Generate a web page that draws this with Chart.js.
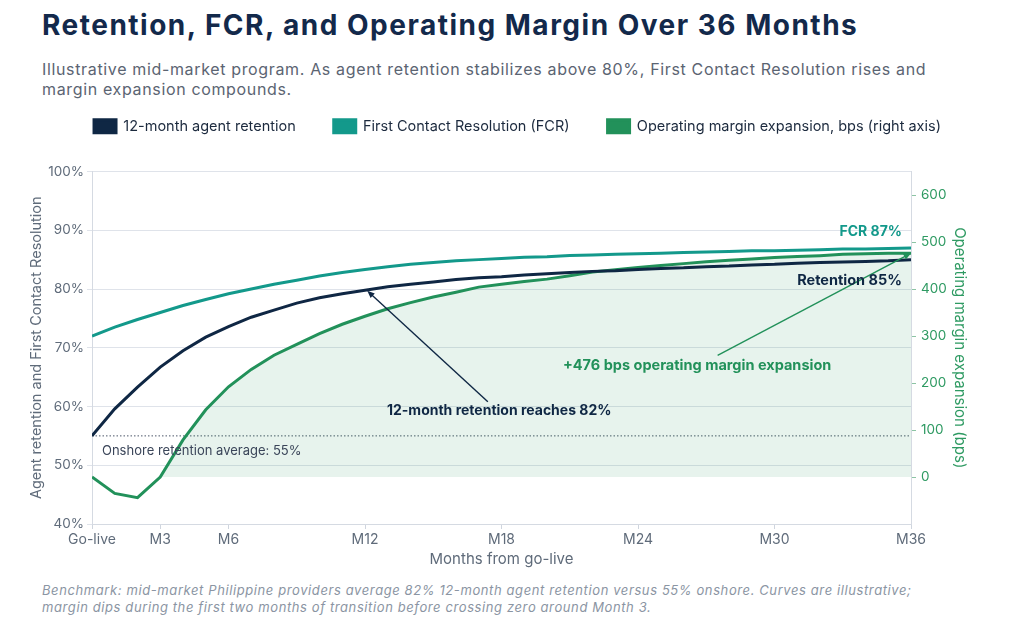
<!DOCTYPE html>
<html>
<head>
<meta charset="utf-8">
<script src="https://cdn.jsdelivr.net/npm/chart.js@4.4.1/dist/chart.umd.min.js"></script>
<style>
  body { margin: 0; width: 1024px; height: 632px; background: #fff; position: relative; overflow: hidden; font-family: Inter, "Noto Sans", sans-serif; }
  #title { position: absolute; left: 42px; top: 8px; font-size: 28px; font-weight: 700; color: #13294b; letter-spacing: 1.5px; white-space: nowrap; }
  #sub { position: absolute; left: 42px; top: 59px; font-size: 16px; line-height: 20px; color: #5b6472; letter-spacing: 0.65px; white-space: nowrap; }
  #wrap { position: absolute; left: 0; top: 81px; width: 1024px; height: 487px; }
  #foot { position: absolute; left: 42px; top: 582px; font-size: 13px; font-style: italic; color: #8b95a3; line-height: 17px; letter-spacing: 0.6px; white-space: nowrap; }
</style>
</head>
<body>
<div id="title">Retention, FCR, and Operating Margin Over 36 Months</div>
<div id="sub">Illustrative mid-market program. As agent retention stabilizes above 80%, First Contact Resolution rises and<br>margin expansion compounds.</div>
<div id="wrap"><canvas id="myChart"></canvas></div>
<div id="foot">Benchmark: mid-market Philippine providers average 82% 12-month agent retention versus 55% onshore. Curves are illustrative;<br>margin dips during the first two months of transition before crossing zero around Month 3.</div>

<script>
// months from go-live
var months = [0, 1, 2, 3, 4, 5, 6, 7, 8, 9, 10, 11, 12, 13, 14, 15, 16, 17, 18,
  19, 20, 21, 22, 23, 24, 25, 26, 27, 28, 29, 30, 31, 32, 33, 34, 35, 36];

// 12-month agent retention (%)
var retention = [55, 59.6, 63.3, 66.7, 69.5, 71.8, 73.6, 75.2, 76.4, 77.6, 78.5, 79.2, 79.8,
  80.4, 80.8, 81.2, 81.6, 81.9, 82.1, 82.4, 82.6, 82.8, 83.0, 83.1, 83.3,
  83.5, 83.6, 83.8, 83.9, 84.1, 84.2, 84.4, 84.5, 84.6, 84.7, 84.8, 85.0];

// First Contact Resolution (%)
var fcr = [72.0, 73.5, 74.8, 76.0, 77.2, 78.2, 79.2, 80.0, 80.8, 81.5, 82.2, 82.8, 83.3,
  83.8, 84.2, 84.5, 84.8, 85.0, 85.2, 85.4, 85.5, 85.7, 85.8, 85.9, 86.0,
  86.1, 86.2, 86.3, 86.4, 86.5, 86.5, 86.6, 86.7, 86.8, 86.8, 86.9, 87.0];

// operating margin expansion (bps)
var margin = [0, -35, -44, 0, 79, 143, 192, 229, 259, 282, 305, 325, 342,
  358, 371, 383, 393, 404, 410, 416, 421, 428, 436, 441, 446,
  450, 454, 458, 461, 464, 467, 469, 471, 474, 475, 476, 476];

// axis ticks
var xTickMonths = [0, 3, 6, 12, 18, 24, 30, 36];
var xTickLabels = ["Go-live", "M3", "M6", "M12", "M18", "M24", "M30", "M36"];
var bpsTicks = [0, 100, 200, 300, 400, 500, 600];

var onshoreAvg = 55;

var NAVY = "#0f2744";
var TEAL = "#13998b";
var GREEN = "#22915a";
var GRAY = "#5f6b7a";
var FONT = "Inter, 'Noto Sans', sans-serif";

function points(values) {
  var out = [];
  for (var i = 0; i < months.length; i++) {
    out.push({ x: months[i], y: values[i] });
  }
  return out;
}

function arrow(ctx, x1, y1, x2, y2, color) {
  var a = Math.atan2(y2 - y1, x2 - x1);
  var h = 8;
  ctx.save();
  ctx.strokeStyle = color;
  ctx.fillStyle = color;
  ctx.lineWidth = 1.4;
  ctx.beginPath();
  ctx.moveTo(x1, y1);
  ctx.lineTo(x2 - Math.cos(a) * 4, y2 - Math.sin(a) * 4);
  ctx.stroke();
  ctx.beginPath();
  ctx.moveTo(x2, y2);
  ctx.lineTo(x2 - h * Math.cos(a - 0.4), y2 - h * Math.sin(a - 0.4));
  ctx.lineTo(x2 - h * Math.cos(a + 0.4), y2 - h * Math.sin(a + 0.4));
  ctx.closePath();
  ctx.fill();
  ctx.restore();
}

// 평균선, 라벨, 화살표
var notes = {
  id: "notes",
  beforeDatasetsDraw: function (chart) {
    var ctx = chart.ctx;
    var a = chart.chartArea;
    var y = chart.scales.y.getPixelForValue(onshoreAvg);
    ctx.save();
    ctx.strokeStyle = "#4a5568";
    ctx.lineWidth = 1;
    ctx.setLineDash([1.5, 2]);
    ctx.beginPath();
    ctx.moveTo(a.left, y);
    ctx.lineTo(a.right, y);
    ctx.stroke();
    ctx.restore();
  },
  afterDatasetsDraw: function (chart) {
    var ctx = chart.ctx;
    var a = chart.chartArea;
    var x = chart.scales.x;
    var yl = chart.scales.y;
    var yr = chart.scales.y1;

    ctx.save();
    ctx.textBaseline = "middle";

    ctx.font = "13px " + FONT;
    ctx.fillStyle = "#3a4559";
    ctx.textAlign = "left";
    ctx.fillText("Onshore retention average: 55%", a.left + 10, yl.getPixelForValue(onshoreAvg) + 15);

    arrow(ctx, x.getPixelForValue(17.4), yl.getPixelForValue(60.8),
      x.getPixelForValue(12.1), yl.getPixelForValue(79.7), NAVY);
    ctx.font = "bold 14px " + FONT;
    ctx.fillStyle = NAVY;
    ctx.textAlign = "center";
    ctx.fillText("12-month retention reaches 82%", x.getPixelForValue(17.9), yl.getPixelForValue(59.2));

    arrow(ctx, x.getPixelForValue(27.5), yr.getPixelForValue(259),
      x.getPixelForValue(36), yr.getPixelForValue(476), GREEN);
    ctx.font = "bold 14.5px " + FONT;
    ctx.fillStyle = GREEN;
    ctx.fillText("+476 bps operating margin expansion", x.getPixelForValue(26.6), yr.getPixelForValue(236));

    ctx.textAlign = "right";
    ctx.font = "bold 14px " + FONT;
    ctx.fillStyle = TEAL;
    ctx.fillText("FCR 87%", a.right - 9, yl.getPixelForValue(89.7));
    ctx.font = "bold 14.5px " + FONT;
    ctx.fillStyle = NAVY;
    ctx.fillText("Retention 85%", a.right - 9, yl.getPixelForValue(81.4));
    ctx.restore();
  }
};

// 범례 아래 여백, 범례 위치
var legendGap = {
  id: "legendGap",
  beforeInit: function (chart) {
    var fit = chart.legend.fit;
    chart.legend.fit = function () {
      fit.call(this);
      this.height += 28;
    };
  },
  afterLayout: function (chart) {
    chart.legend.left += 19;
    chart.legend.right += 19;
  }
};

Chart.defaults.font.family = FONT;

new Chart(document.getElementById("myChart"), {
  type: "line",
  data: {
    datasets: [
      {
        label: "12-month agent retention",
        data: points(retention),
        borderColor: NAVY,
        backgroundColor: NAVY,
        borderWidth: 3,
        pointRadius: 0,
        yAxisID: "y"
      },
      {
        label: "First Contact Resolution (FCR)",
        data: points(fcr),
        borderColor: TEAL,
        backgroundColor: TEAL,
        borderWidth: 3,
        pointRadius: 0,
        yAxisID: "y"
      },
      {
        label: "Operating margin expansion, bps (right axis)",
        data: points(margin),
        borderColor: GREEN,
        backgroundColor: GREEN,
        borderWidth: 3,
        pointRadius: 0,
        yAxisID: "y1",
        fill: { target: { value: 0 }, above: "rgba(34,145,90,0.11)", below: "rgba(0,0,0,0)" }
      }
    ]
  },
  options: {
    responsive: true,
    maintainAspectRatio: false,
    animation: false,
    layout: { padding: { left: 28, right: 55, top: 0, bottom: 0 } },
    plugins: {
      legend: {
        labels: {
          boxWidth: 22,
          boxHeight: 13,
          padding: 38,
          color: "#1c2a3e",
          font: { size: 14.5 }
        }
      },
      tooltip: { enabled: false }
    },
    scales: {
      x: {
        type: "linear",
        min: 0,
        max: 36,
        afterBuildTicks: function (s) {
          s.ticks = xTickMonths.map(function (v) { return { value: v }; });
        },
        afterFit: function (s) { s.height = 44; },
        ticks: {
          color: GRAY,
          font: { size: 14 },
          padding: 2,
          maxRotation: 0,
          callback: function (v) { return xTickLabels[xTickMonths.indexOf(v)]; }
        },
        grid: { drawOnChartArea: false, color: "#cfd5de", tickLength: 5 },
        border: { color: "#d5dae2" },
        title: { display: true, text: "Months from go-live", color: GRAY, font: { size: 15 }, padding: 0 }
      },
      y: {
        position: "left",
        min: 40,
        max: 100,
        afterFit: function (s) { s.width = 64; },
        ticks: {
          stepSize: 10,
          color: GRAY,
          font: { size: 13.5 },
          padding: 3,
          callback: function (v) { return v + "%"; }
        },
        grid: { color: "#dfe3ea", tickLength: 5 },
        border: { color: "#d5dae2" },
        title: { display: true, text: "Agent retention and First Contact Resolution", color: GRAY, font: { size: 14.5 }, padding: 0 }
      },
      y1: {
        position: "right",
        min: -100,
        max: 650,
        afterBuildTicks: function (s) {
          s.ticks = bpsTicks.map(function (v) { return { value: v }; });
        },
        afterFit: function (s) { s.width = 58; },
        ticks: { color: "#2e9a62", font: { size: 13.5 }, padding: 5 },
        grid: { drawOnChartArea: false, color: "#8cc4a4", tickLength: 5 },
        border: { color: "#d5dae2" },
        title: { display: true, text: "Operating margin expansion (bps)", color: "#2e9a62", font: { size: 15 }, padding: 0 }
      }
    }
  },
  plugins: [notes, legendGap]
});
</script>
</body>
</html>
